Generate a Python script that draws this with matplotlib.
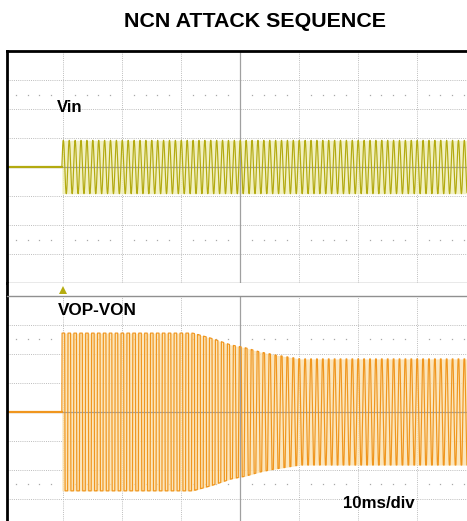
import numpy as np
import matplotlib
matplotlib.use("Agg")
import matplotlib.pyplot as plt

# ---------------- data ----------------
title = "NCN ATTACK SEQUENCE"
ch1_label = "Vin"
ch2_label = "VOP-VON"
timebase_label = "10ms/div"

time_per_div_ms = 10
signal_freq_khz = 1.0          # ~10 cycles per division
burst_start_ms = -0.2          # burst starts at the trigger
vin_amp_div = 0.92             # Vin amplitude (divisions)

# VOP-VON envelope (ms, divisions)
vop_env_t = [0.0, 22.0, 25.0, 28.5, 30.8, 33.4, 35.9, 40.2, 68.5]
vop_env_a = [2.72, 2.72, 2.55, 2.31, 2.22, 2.07, 1.97, 1.83, 1.83]
# how square (clipped) the output looks along the sequence
vop_sq_t = [0.0, 22.0, 28.0, 34.0, 40.0, 68.5]
vop_sq_k = [7.0, 7.0, 2.2, 1.4, 1.1, 1.1]

x_range_ms = (-9.5, 68.5)
grid_t = [0, 10, 20, 30, 40, 50, 60]
center_t = 30

# ---------------- figure ----------------
W, H = 467, 521
fig = plt.figure(figsize=(W / 100, H / 100), dpi=100)
fig.patch.set_facecolor("white")

def fx(px):
    return px / W

def fy(py):
    return 1 - py / H

left = fx(7)
width = 1 - left
ax_up = fig.add_axes([left, fy(283), width, fy(51) - fy(283)])
ax_strip = fig.add_axes([left, fy(296), width, fy(283) - fy(296)])
ax_lo = fig.add_axes([left, 0.0, width, fy(296)])

grid_color = "#bdbdbd"
center_color = "#a0a0a0"

def style_screen(ax, ylo, yhi, top_black):
    ax.set_xlim(*x_range_ms)
    ax.set_ylim(ylo, yhi)
    ax.set_xticks([])
    ax.set_yticks([])
    for s in ax.spines.values():
        s.set_visible(False)
    ax.spines["left"].set_visible(True)
    ax.spines["left"].set_color("black")
    ax.spines["left"].set_linewidth(2.0)
    if top_black:
        ax.spines["top"].set_visible(True)
        ax.spines["top"].set_color("black")
        ax.spines["top"].set_linewidth(2.0)
    # dotted grid
    for gt in grid_t:
        if gt == center_t:
            ax.axvline(gt, color=center_color, lw=0.9, zorder=1.5)
        else:
            ax.axvline(gt, color=grid_color, lw=0.7, ls=(0, (1, 1.2)), zorder=0)
    for gy in range(-4, 5):
        if ylo < gy < yhi:
            if gy == 0:
                ax.axhline(gy, color=center_color, lw=0.9, zorder=1.5)
            else:
                ax.axhline(gy, color=grid_color, lw=0.7, ls=(0, (1, 1.2)), zorder=0)
    # minor dot rows
    dots_t = [v for v in np.arange(-8, 69, 2) if v % 10 != 0]
    for yy in (-2.5, 2.5):
        ax.plot(dots_t, [yy] * len(dots_t), ls="none", marker="s", ms=0.9,
                mew=0, color="#a8a8a8", zorder=0)

style_screen(ax_up, -4, 4, True)
ax_up.spines["bottom"].set_visible(True)
ax_up.spines["bottom"].set_color("#909090")
ax_up.spines["bottom"].set_linewidth(1.0)

style_screen(ax_lo, -3.76, 4, False)
ax_lo.spines["top"].set_visible(True)
ax_lo.spines["top"].set_color("#909090")
ax_lo.spines["top"].set_linewidth(1.0)

ax_strip.set_xlim(*x_range_ms)
ax_strip.set_ylim(0, 1)
ax_strip.set_xticks([])
ax_strip.set_yticks([])
for s in ax_strip.spines.values():
    s.set_visible(False)
ax_strip.spines["left"].set_visible(True)
ax_strip.spines["left"].set_color("black")
ax_strip.spines["left"].set_linewidth(2.0)
ax_strip.plot([0.0], [0.45], marker="^", ms=5.5, color="#b5ac10", mew=0)

# ---------------- waveforms ----------------
t_pre = np.array([x_range_ms[0], burst_start_ms])
t = np.linspace(burst_start_ms, x_range_ms[1], 14000)
phase = 2 * np.pi * signal_freq_khz * (t - burst_start_ms)

vin_line = "#b3aa10"
vin_fill = "#efeeb4"
vop_line = "#f0961e"
vop_fill = "#fbe0ad"

vin = vin_amp_div * np.sin(phase)
ax_up.fill_between(t, -vin_amp_div, vin_amp_div, color=vin_fill, alpha=0.8,
                   lw=0, zorder=1)
ax_up.plot(t_pre, [0, 0], color=vin_line, lw=1.6, zorder=2)
ax_up.plot(t, vin, color=vin_line, lw=0.85, zorder=2)

amp = np.interp(t, vop_env_t, vop_env_a)
sq = np.interp(t, vop_sq_t, vop_sq_k)
vop = amp * np.clip(sq * np.sin(phase), -1, 1)
ax_lo.fill_between(t, -amp, amp, color=vop_fill, alpha=0.8, lw=0, zorder=1)
ax_lo.plot(t_pre, [0, 0], color=vop_line, lw=1.6, zorder=2)
ax_lo.plot(t, vop, color=vop_line, lw=0.85, zorder=2)

# ---------------- texts ----------------
font = "Liberation Sans"
fig.text(fx(254.5), fy(27), title, ha="center", va="baseline",
         fontsize=15.4, fontweight="bold", family=font)
fig.text(fx(57), fy(112), ch1_label, ha="left", va="baseline",
         fontsize=12, fontweight="bold", family=font)
fig.text(fx(58), fy(315), ch2_label, ha="left", va="baseline",
         fontsize=12.3, fontweight="bold", family=font)
fig.text(fx(343), fy(508), timebase_label, ha="left", va="baseline",
         fontsize=12.1, fontweight="bold", family=font)

fig.savefig("out.png", dpi=100, facecolor="white")
